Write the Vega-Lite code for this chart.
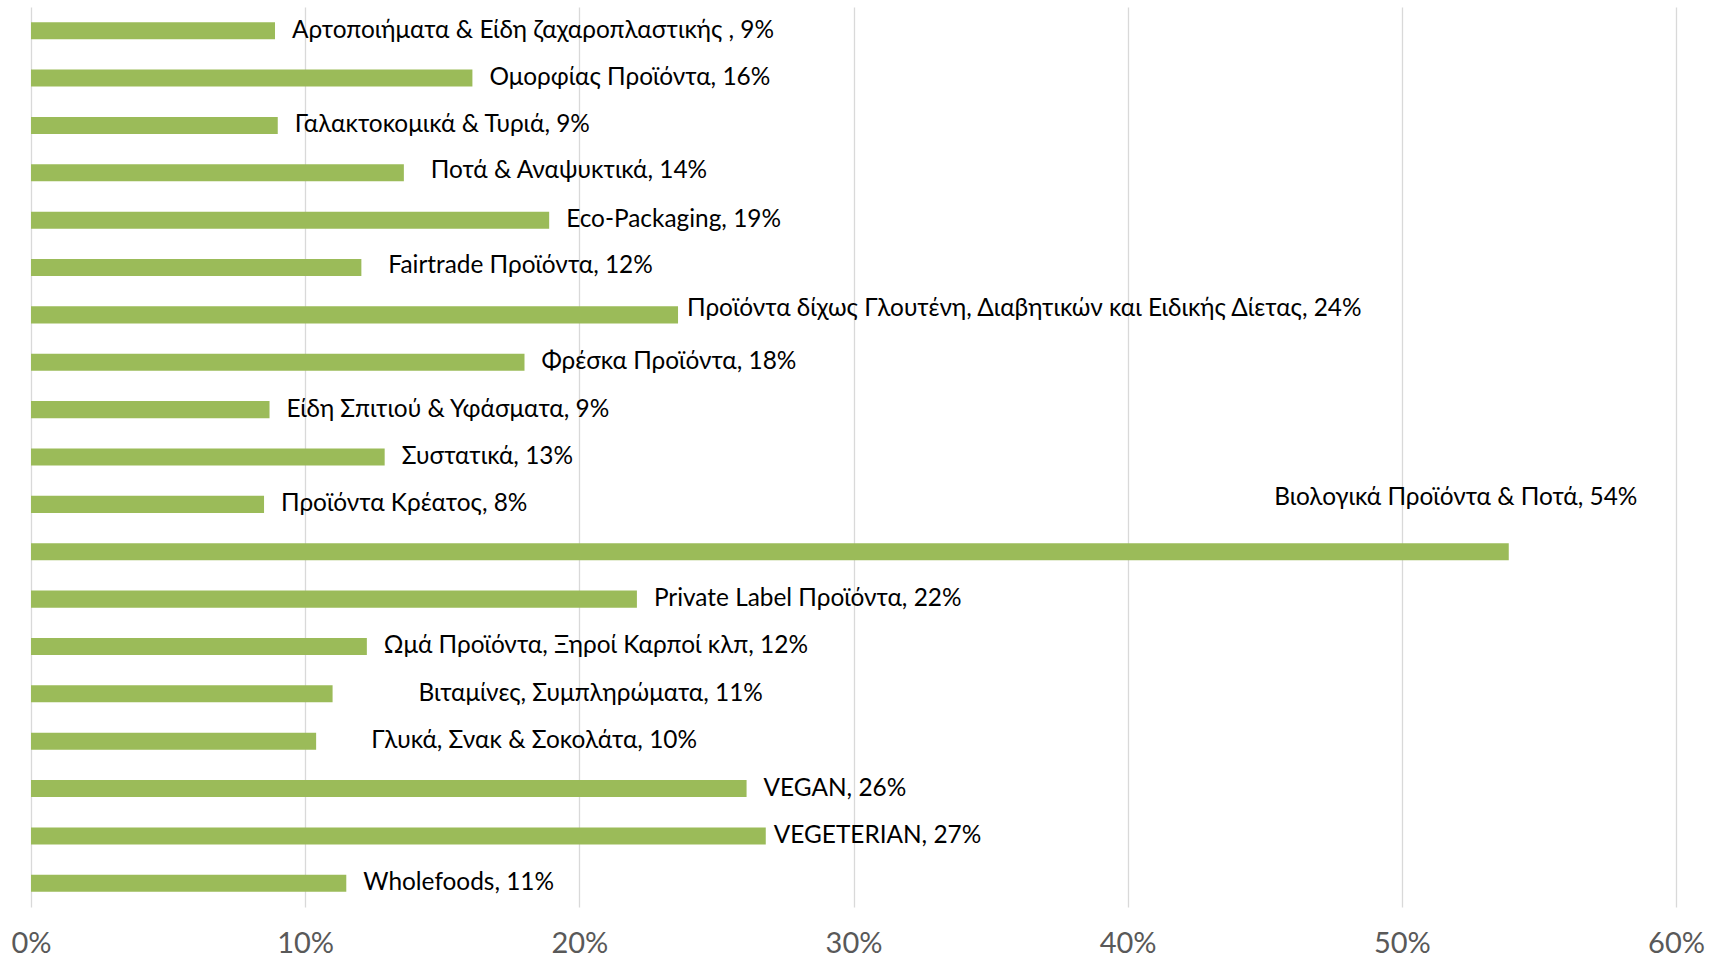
{
  "$schema": "https://vega.github.io/schema/vega-lite/v6.json",
  "width": 1645,
  "height": 900,
  "autosize": "none",
  "padding": {"left": 31, "top": 7, "right": 47, "bottom": 56},
  "background": "#ffffff",
  "config": {"view": {"stroke": null}, "font": "Lato"},
  "data": {"values": [
    {"cat": "Αρτοποιήματα & Είδη ζαχαροπλαστικής", "value": 8.9, "label": "Αρτοποιήματα & Είδη ζαχαροπλαστικής , 9%"},
    {"cat": "Ομορφίας Προϊόντα", "value": 16.1, "label": "Ομορφίας Προϊόντα, 16%"},
    {"cat": "Γαλακτοκομικά & Τυριά", "value": 9.0, "label": "Γαλακτοκομικά & Τυριά, 9%"},
    {"cat": "Ποτά & Αναψυκτικά", "value": 13.6, "label": "Ποτά & Αναψυκτικά, 14%"},
    {"cat": "Eco-Packaging", "value": 18.9, "label": "Eco-Packaging, 19%"},
    {"cat": "Fairtrade Προϊόντα", "value": 12.05, "label": "Fairtrade Προϊόντα, 12%"},
    {"cat": "Προϊόντα δίχως Γλουτένη, Διαβητικών και Ειδικής Δίετας", "value": 23.6, "label": "Προϊόντα δίχως Γλουτένη, Διαβητικών και Ειδικής Δίετας, 24%"},
    {"cat": "Φρέσκα Προϊόντα", "value": 18.0, "label": "Φρέσκα Προϊόντα, 18%"},
    {"cat": "Είδη Σπιτιού & Υφάσματα", "value": 8.7, "label": "Είδη Σπιτιού & Υφάσματα, 9%"},
    {"cat": "Συστατικά", "value": 12.9, "label": "Συστατικά, 13%"},
    {"cat": "Προϊόντα Κρέατος", "value": 8.5, "label": "Προϊόντα Κρέατος, 8%"},
    {"cat": "Βιολογικά Προϊόντα & Ποτά", "value": 53.9, "label": "Βιολογικά Προϊόντα & Ποτά, 54%"},
    {"cat": "Private Label Προϊόντα", "value": 22.1, "label": "Private Label Προϊόντα, 22%"},
    {"cat": "Ωμά Προϊόντα, Ξηροί Καρποί κλπ", "value": 12.25, "label": "Ωμά Προϊόντα, Ξηροί Καρποί κλπ, 12%"},
    {"cat": "Βιταμίνες, Συμπληρώματα", "value": 11.0, "label": "Βιταμίνες, Συμπληρώματα, 11%"},
    {"cat": "Γλυκά, Σνακ & Σοκολάτα", "value": 10.4, "label": "Γλυκά, Σνακ & Σοκολάτα, 10%"},
    {"cat": "VEGAN", "value": 26.1, "label": "VEGAN, 26%"},
    {"cat": "VEGETERIAN", "value": 26.8, "label": "VEGETERIAN, 27%"},
    {"cat": "Wholefoods", "value": 11.5, "label": "Wholefoods, 11%"}
  ]},
  "encoding": {
    "y": {"field": "cat", "type": "nominal", "sort": null, "axis": null,
          "scale": {"paddingInner": 0.64, "paddingOuter": 0.32}},
    "x": {"field": "value", "type": "quantitative",
          "scale": {"domain": [0, 60], "nice": false},
          "axis": {"values": [0, 10, 20, 30, 40, 50, 60], "labelExpr": "datum.value + '%'",
                   "title": null, "domain": false, "ticks": false,
                   "grid": true, "gridColor": "#d9d9d9", "gridWidth": 1.3,
                   "labelFont": "Lato", "labelFontSize": 29, "labelColor": "#595959",
                   "labelPadding": 22, "labelFlush": false}}
  },
  "layer": [
    {"mark": {"type": "bar", "color": "#9bbb59"}},
    {"transform": [{"filter": {"not": {"field": "cat", "oneOf": ["Ποτά & Αναψυκτικά", "Fairtrade Προϊόντα", "Προϊόντα δίχως Γλουτένη, Διαβητικών και Ειδικής Δίετας", "VEGETERIAN", "Βιταμίνες, Συμπληρώματα", "Γλυκά, Σνακ & Σοκολάτα", "Βιολογικά Προϊόντα & Ποτά"]}}}],
     "mark": {"type": "text", "align": "left", "baseline": "middle", "dx": 17, "fontSize": 24.4, "color": "#000000", "font": "Lato"},
     "encoding": {"text": {"field": "label"}}},
    {"transform": [{"filter": {"field": "cat", "oneOf": ["Ποτά & Αναψυκτικά", "Fairtrade Προϊόντα"]}}],
     "mark": {"type": "text", "align": "left", "baseline": "middle", "dx": 27, "dy": -2, "fontSize": 24.4, "color": "#000000", "font": "Lato"},
     "encoding": {"text": {"field": "label"}}},
    {"transform": [{"filter": {"field": "cat", "equal": "Προϊόντα δίχως Γλουτένη, Διαβητικών και Ειδικής Δίετας"}}],
     "mark": {"type": "text", "align": "left", "baseline": "middle", "dx": 9, "dy": -6, "fontSize": 24.4, "color": "#000000", "font": "Lato"},
     "encoding": {"text": {"field": "label"}}},
    {"transform": [{"filter": {"field": "cat", "equal": "VEGETERIAN"}}],
     "mark": {"type": "text", "align": "left", "baseline": "middle", "dx": 8, "fontSize": 24.4, "color": "#000000", "font": "Lato"},
     "encoding": {"text": {"field": "label"}}},
    {"transform": [{"filter": {"field": "cat", "equal": "Βιταμίνες, Συμπληρώματα"}}],
     "mark": {"type": "text", "align": "left", "baseline": "middle", "dx": 86, "fontSize": 24.4, "color": "#000000", "font": "Lato"},
     "encoding": {"text": {"field": "label"}}},
    {"transform": [{"filter": {"field": "cat", "equal": "Γλυκά, Σνακ & Σοκολάτα"}}],
     "mark": {"type": "text", "align": "left", "baseline": "middle", "dx": 55, "fontSize": 24.4, "color": "#000000", "font": "Lato"},
     "encoding": {"text": {"field": "label"}}},
    {"transform": [{"filter": {"field": "cat", "equal": "Βιολογικά Προϊόντα & Ποτά"}}],
     "mark": {"type": "text", "align": "center", "baseline": "middle", "dx": -53, "dy": -54, "fontSize": 24.4, "color": "#000000", "font": "Lato"},
     "encoding": {"text": {"field": "label"}}}
  ]
}
